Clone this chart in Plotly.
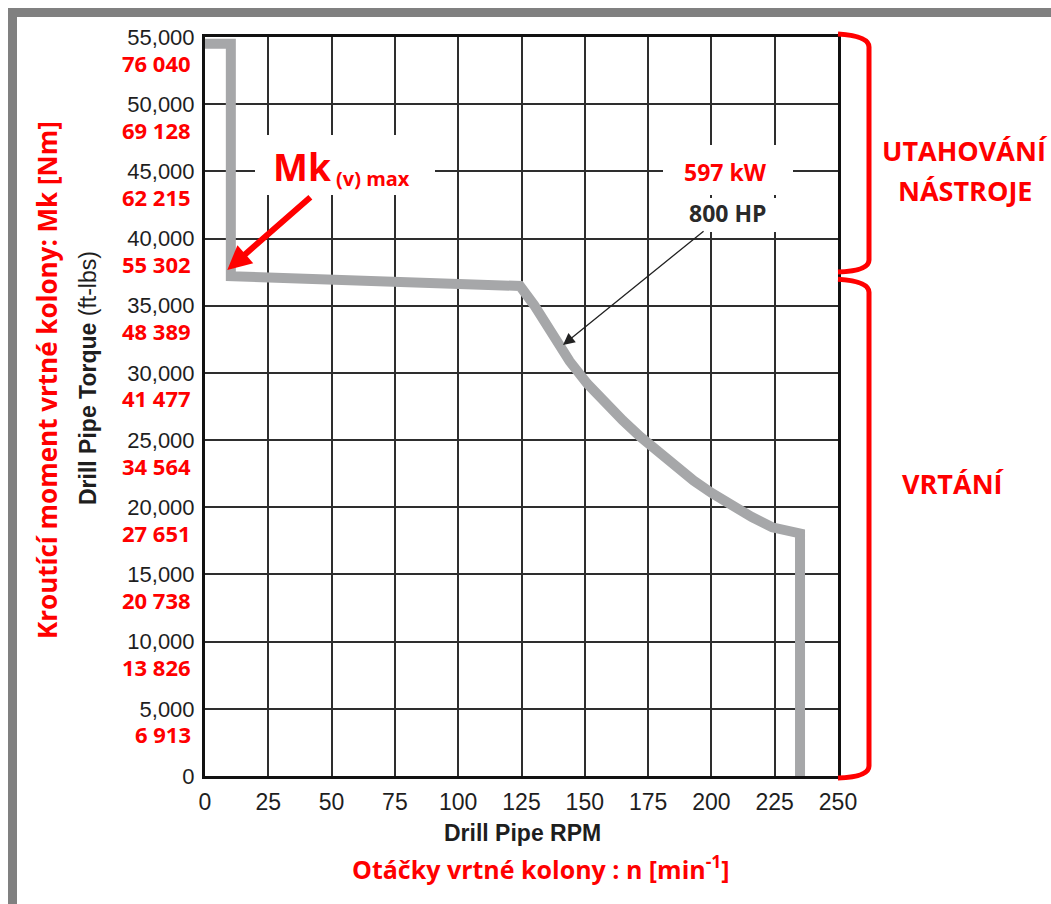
import plotly.graph_objects as go

# Top drive torque curve: drill pipe torque (ft-lbs) versus drill pipe RPM
rpm = [0, 10.2, 10.2, 124.4, 130, 137, 144, 151, 158, 165, 172, 179, 186,
       193, 200, 208, 216, 224, 233.8, 235.0, 235.0]
torque_ftlb = [54500, 54500, 37200, 36470, 35040, 32800, 30870, 29190, 27760,
               26460, 25240, 24080, 23000, 21980, 21070, 20110, 19270, 18510,
               18090, 18050, 0]

# Axis ticks: ft-lbs with the metric (Nm) equivalents printed underneath
x_ticks = [0, 25, 50, 75, 100, 125, 150, 175, 200, 225, 250]
y_ticks = [0, 5000, 10000, 15000, 20000, 25000, 30000, 35000, 40000, 45000, 50000, 55000]
y_tick_text = ["0", "5,000", "10,000", "15,000", "20,000", "25,000", "30,000",
               "35,000", "40,000", "45,000", "50,000", "55,000"]
y_ticks_nm = [5000, 10000, 15000, 20000, 25000, 30000, 35000, 40000, 45000, 50000, 55000]
nm_text = ["6 913", "13 826", "20 738", "27 651", "34 564", "41 477",
           "48 389", "55 302", "62 215", "69 128", "76 040"]

# Annotated points on the curve
mk_max_point = (8.8, 37660)      # Mk (v) max
mk_label_tail = (42.2, 43170)
power_point = (141.4, 32080)     # 800 HP / 597 kW
power_label_tail = (197.5, 40640)

# Bracketed torque ranges on the right
makeup_range = (55000, 37650)    # UTAHOVÁNÍ NÁSTROJE
drilling_range = (36750, 0)      # VRTÁNÍ

FIG_W, FIG_H = 1051, 904
L, T, W, H = 205, 37, 633, 739
RED = "#ff0000"
DARK = "#1e1e1e"
CURVE = "#a6a7a9"
SANS = "Liberation Sans, Arial, sans-serif"
BOLD = "Open Sans, Noto Sans, sans-serif"


def px(x):
    return (x - L) / W


def py(y):
    return (T + H - y) / H


def yv(v):
    # torque value -> paper y
    return v / 55000


fig = go.Figure()
fig.add_trace(go.Scatter(
    x=rpm, y=torque_ftlb, mode="lines",
    line=dict(color=CURVE, width=10),
    hoverinfo="skip", showlegend=False,
))

shapes = []
# window frame (top and left bars)
shapes.append(dict(type="rect", xref="paper", yref="paper",
                   x0=px(8), x1=px(FIG_W + 5), y0=py(17), y1=py(8),
                   fillcolor="#808080", line=dict(width=0), layer="above"))
shapes.append(dict(type="rect", xref="paper", yref="paper",
                   x0=px(8), x1=px(17), y0=py(FIG_H + 5), y1=py(8),
                   fillcolor="#808080", line=dict(width=0), layer="above"))

# white label backgrounds that break the grid
for (x0, x1, y0, y1) in [(255, 435, 135, 195), (663, 793, 145, 195), (672, 782, 198, 232)]:
    shapes.append(dict(type="rect", xref="paper", yref="paper",
                       x0=px(x0), x1=px(x1), y0=py(y1), y1=py(y0),
                       fillcolor="white", line=dict(width=0), layer="above"))


def bracket(top_v, bot_v):
    xa, xb = px(838), px(869)
    yt, yb = yv(top_v), yv(bot_v)
    r = 10 / H
    p = (f"M {xa},{yt + 3 / H} Q {xb},{yt + 1 / H} {xb},{yt - r} "
         f"L {xb},{yb + r} Q {xb},{yb - 1 / H} {xa},{yb - 2 / H}")
    return dict(type="path", xref="paper", yref="paper", path=p,
                line=dict(color=RED, width=5), layer="above")


shapes.append(bracket(*makeup_range))
shapes.append(bracket(*drilling_range))

ann = []
# metric tick labels under the ft-lbs labels
for v, t in zip(y_ticks_nm, nm_text):
    ann.append(dict(xref="paper", yref="y", x=px(193), y=v, yshift=-25.5,
                    xanchor="right", yanchor="middle", showarrow=False,
                    text=f"<b>{t}</b>", font=dict(family=BOLD, size=22, color=RED)))

# axis titles
ann.append(dict(xref="paper", yref="paper", x=px(47), y=py(380), textangle=-90,
                showarrow=False, xanchor="center", yanchor="middle",
                text="<b>Kroutící moment vrtné kolony: Mk [Nm]</b>",
                font=dict(family=BOLD, size=26, color=RED)))
ann.append(dict(xref="paper", yref="paper", x=px(88), y=py(378), textangle=-90,
                showarrow=False, xanchor="center", yanchor="middle",
                text="<b>Drill Pipe Torque</b> (ft-lbs)",
                font=dict(family=SANS, size=23, color=DARK)))
ann.append(dict(xref="paper", yref="paper", x=px(522), y=py(833),
                showarrow=False, xanchor="center", yanchor="middle",
                text="<b>Drill Pipe RPM</b>",
                font=dict(family=SANS, size=23, color=DARK)))
ann.append(dict(xref="paper", yref="paper", x=px(541), y=py(868),
                showarrow=False, xanchor="center", yanchor="middle",
                text="<b>Otáčky vrtné kolony : n [min<sup>-1</sup>]</b>",
                font=dict(family=BOLD, size=25, color=RED)))

# range labels
ann.append(dict(xref="paper", yref="paper", x=px(965), y=py(150),
                showarrow=False, xanchor="center", yanchor="middle",
                text="<b>UTAHOVÁNÍ</b>", font=dict(family=BOLD, size=27, color=RED)))
ann.append(dict(xref="paper", yref="paper", x=px(965), y=py(190),
                showarrow=False, xanchor="center", yanchor="middle",
                text="<b>NÁSTROJE</b>", font=dict(family=BOLD, size=27, color=RED)))
ann.append(dict(xref="paper", yref="paper", x=px(953), y=py(484),
                showarrow=False, xanchor="center", yanchor="middle",
                text="<b>VRTÁNÍ</b>", font=dict(family=BOLD, size=27, color=RED)))

# Mk (v) max label and arrow
ann.append(dict(xref="paper", yref="paper", x=px(271), y=py(166),
                showarrow=False, xanchor="left", yanchor="middle",
                text="<b>Mk</b>", font=dict(family=BOLD, size=37, color=RED)))
ann.append(dict(xref="paper", yref="paper", x=px(334), y=py(178),
                showarrow=False, xanchor="left", yanchor="middle",
                text="<b>(v) max</b>", font=dict(family=BOLD, size=20, color=RED)))
ann.append(dict(x=mk_max_point[0], y=mk_max_point[1], xref="x", yref="y",
                ax=mk_label_tail[0], ay=mk_label_tail[1], axref="x", ayref="y",
                text="", showarrow=True, arrowhead=2, arrowsize=0.8,
                arrowwidth=6, arrowcolor=RED))

# power label and arrow
ann.append(dict(xref="paper", yref="paper", x=px(725), y=py(172),
                showarrow=False, xanchor="center", yanchor="middle",
                text="<b>597 kW</b>", font=dict(family=BOLD, size=23, color=RED)))
ann.append(dict(xref="paper", yref="paper", x=px(727), y=py(213),
                showarrow=False, xanchor="center", yanchor="middle",
                text="<b>800 HP</b>", font=dict(family=BOLD, size=23, color="#2a2a2a")))
ann.append(dict(x=power_point[0], y=power_point[1], xref="x", yref="y",
                ax=power_label_tail[0], ay=power_label_tail[1], axref="x", ayref="y",
                text="", showarrow=True, arrowhead=2, arrowsize=1.8,
                arrowwidth=1.3, arrowcolor="#222"))

fig.update_layout(
    width=FIG_W, height=FIG_H,
    margin=dict(l=L, r=FIG_W - L - W, t=T, b=FIG_H - T - H),
    paper_bgcolor="white", plot_bgcolor="white",
    showlegend=False,
    shapes=shapes, annotations=ann,
    xaxis=dict(range=[0, 250], tickvals=x_ticks, ticks="", ticklabelstandoff=3,
               showgrid=True, gridcolor="#2e2e2e", gridwidth=2,
               showline=True, linecolor="#111", linewidth=3, mirror=True,
               zeroline=False, fixedrange=True,
               tickfont=dict(family=SANS, size=23, color=DARK)),
    yaxis=dict(range=[0, 55000], tickvals=y_ticks, ticktext=y_tick_text, ticks="",
               ticklabelstandoff=3,
               showgrid=True, gridcolor="#2e2e2e", gridwidth=2,
               showline=True, linecolor="#111", linewidth=3, mirror=True,
               zeroline=False, fixedrange=True,
               tickfont=dict(family=SANS, size=22, color=DARK)),
)

fig.write_html("out.html", config={"displayModeBar": False})
